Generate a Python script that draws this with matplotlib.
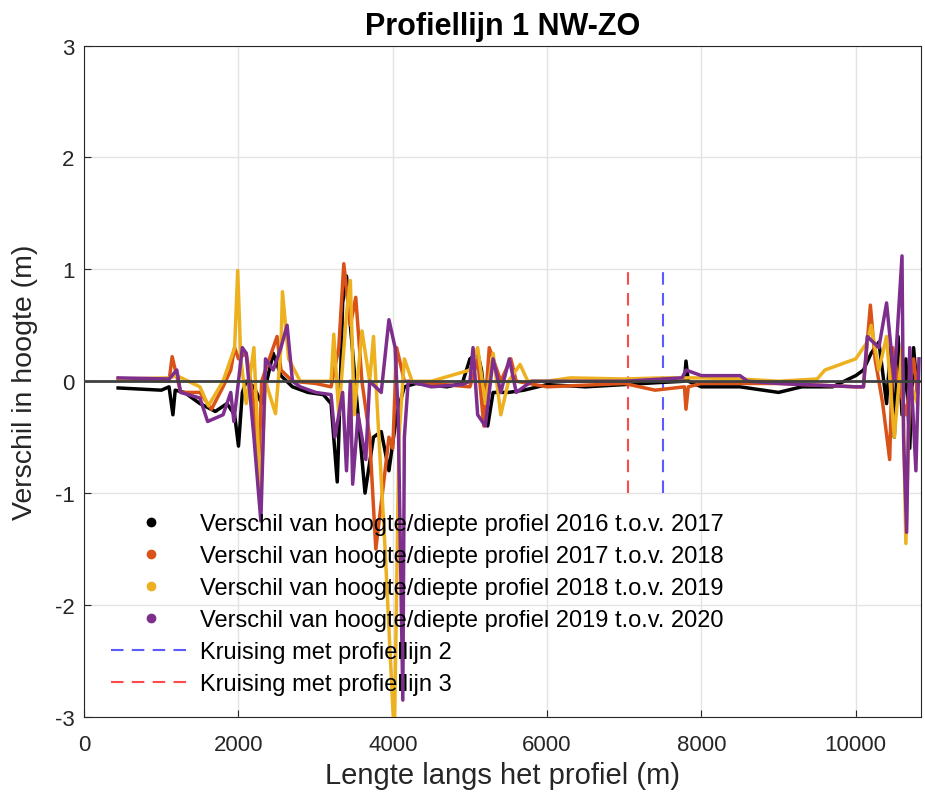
import numpy as np
import matplotlib.pyplot as plt
from matplotlib.lines import Line2D

# Verschil in hoogte langs profiellijn 1 (afstand in m, verschil in m)
x_1617 = [440, 1000, 1100, 1150, 1180, 1300, 1500, 1700, 1850, 1950, 2000, 2050, 2100, 2200, 2300,
          2450, 2550, 2700, 2900, 3100, 3200, 3280, 3300, 3350, 3400, 3450, 3550, 3640, 3750, 3850,
          3950, 4050, 4150, 4300, 4700, 4900, 5000, 5100, 5150, 5230, 5300, 5500, 5700, 6000, 6500,
          7000, 7500, 7780, 7800, 7830, 8000, 8500, 9000, 9300, 9700, 10000, 10100, 10200, 10300,
          10400, 10450, 10500, 10550, 10600, 10650, 10700, 10750, 10800]
y_1617 = [-0.06, -0.08, -0.05, -0.3, -0.08, -0.1, -0.2, -0.27, -0.2, -0.3, -0.58, -0.1, 0.0, -0.05, -0.2,
          0.25, 0.05, -0.05, -0.1, -0.12, -0.2, -0.9, -0.5, 0.7, 0.94, 0.5, -0.3, -1.0, -0.5, -0.45,
          -0.8, -0.3, -0.05, -0.02, -0.05, -0.02, 0.2, 0.25, 0.1, -0.4, -0.1, -0.1, -0.08, -0.03, -0.05,
          -0.03, -0.01, 0.0, 0.18, 0.0, -0.05, -0.05, -0.1, -0.05, -0.05, 0.05, 0.1, 0.25, 0.35,
          -0.2, 0.3, -0.5, 0.4, -0.3, 0.2, -0.6, 0.3, -0.1]

x_1718 = [440, 1100, 1140, 1250, 1500, 1650, 1800, 1900, 1950, 2000, 2100, 2200, 2260, 2300, 2400,
          2500, 2550, 2700, 3000, 3200, 3300, 3365, 3450, 3520, 3600, 3700, 3780, 3900, 3950, 4000,
          4050, 4150, 4500, 5000, 5100, 5180, 5250, 5400, 5530, 5600, 6000, 7000, 7400, 7780, 7800,
          7830, 8000, 9000, 10000, 10100, 10190, 10250, 10350, 10440, 10480, 10550, 10650, 10750, 10800]
y_1718 = [0.02, 0.0, 0.22, -0.1, -0.1, -0.25, -0.05, 0.1, 0.3, 0.2, 0.25, -0.2, -0.9, 0.0, 0.2,
          0.4, 0.1, 0.0, -0.02, -0.05, 0.3, 1.05, 0.5, 0.75, 0.0, -0.5, -1.5, -0.8, -0.5, -0.6,
          0.3, 0.0, -0.02, -0.05, 0.2, -0.4, 0.3, 0.0, 0.2, 0.0, -0.05, -0.02, -0.08, -0.05, -0.25,
          -0.05, -0.02, -0.02, -0.05, -0.05, 0.68, 0.2, -0.2, -0.7, 0.3, 0.0, -0.3, 0.2, -0.1]

x_1819 = [440, 1100, 1200, 1500, 1610, 1800, 1950, 1990, 2030, 2100, 2200, 2250, 2290, 2350, 2480,
          2550, 2570, 2650, 2800, 3200, 3235, 3300, 3400, 3450, 3500, 3600, 3700, 3750, 3820, 3900,
          4020, 4080, 4150, 4250, 4500, 5000, 5100, 5200, 5300, 5400, 5500, 5650, 5750, 6000, 6300,
          7000, 7500, 8000, 8500, 9000, 9500, 9600, 10000, 10150, 10200, 10300, 10400, 10500, 10600,
          10650, 10700, 10800]
y_1819 = [0.02, 0.03, 0.05, -0.05, -0.22, 0.0, 0.3, 0.99, 0.2, -0.2, 0.3, -0.5, -1.0, 0.0, -0.29,
          0.3, 0.8, 0.2, 0.0, 0.0, 0.42, -0.3, 0.6, 0.9, -0.3, 0.45, 0.0, 0.4, -0.5, -1.5,
          -3.2, -0.5, 0.2, 0.0, 0.0, 0.1, 0.3, -0.2, 0.25, -0.3, 0.0, 0.15, 0.0, 0.0, 0.03,
          0.02, 0.03, 0.03, 0.02, 0.0, 0.02, 0.1, 0.2, 0.35, 0.5, 0.1, 0.4, -0.5, 0.3,
          -1.45, 0.0, -0.2]

x_1920 = [440, 1100, 1200, 1250, 1500, 1600, 1800, 1900, 1940, 2050, 2100, 2200, 2290, 2350, 2450,
          2550, 2630, 2700, 2800, 3000, 3200, 3250, 3350, 3400, 3450, 3480, 3550, 3650, 3700, 3850,
          3950, 4030, 4070, 4130, 4150, 4200, 4500, 4900, 5000, 5040, 5100, 5200, 5300, 5400, 5510,
          5600, 5800, 6000, 7000, 7500, 7750, 7800, 8000, 8500, 8600, 9000, 10000, 10100, 10150,
          10300, 10400, 10500, 10600, 10620, 10660, 10700, 10780, 10820]
y_1920 = [0.03, 0.02, 0.1, -0.1, -0.15, -0.36, -0.3, -0.1, -0.36, 0.3, 0.25, -0.5, -1.25, 0.2, 0.1,
          0.3, 0.5, 0.0, -0.05, -0.1, -0.12, -0.5, -0.1, -0.8, 0.0, -0.92, -0.3, -0.7, 0.0, -0.1,
          0.55, 0.3, -0.3, -2.85, -0.5, 0.0, -0.05, -0.03, 0.0, 0.3, -0.3, -0.4, 0.2, -0.1, 0.2,
          -0.1, 0.0, 0.0, 0.0, 0.02, 0.03, 0.1, 0.05, 0.05, 0.0, -0.02, -0.05, -0.05, 0.4,
          0.3, 0.7, 0.0, 1.12, -0.5, -1.35, 0.3, -0.8, 0.2]

labels = ['Verschil van hoogte/diepte profiel 2016 t.o.v. 2017',
          'Verschil van hoogte/diepte profiel 2017 t.o.v. 2018',
          'Verschil van hoogte/diepte profiel 2018 t.o.v. 2019',
          'Verschil van hoogte/diepte profiel 2019 t.o.v. 2020']
kleuren = ['#000000', '#D95319', '#EDB120', '#7E2F8E']

# Kruisingen met andere profiellijnen
kruising_p2 = 7500
kruising_p3 = 7050
kruising_y = [-1, 1]

plt.rcParams['font.family'] = ['Liberation Sans', 'DejaVu Sans']
plt.rcParams['axes.unicode_minus'] = False

fig = plt.figure(figsize=(9.25, 8.03), dpi=100)
ax = fig.add_axes([0.091, 0.106, 0.905, 0.836])

series = [(x_1617, y_1617), (x_1718, y_1718), (x_1819, y_1819), (x_1920, y_1920)]
handles = []
for (xs, ys), kl, lab in zip(series, kleuren, labels):
    ax.plot(xs, ys, color=kl, lw=2.5, zorder=3)
    handles.append(Line2D([], [], ls='none', marker='o', ms=6, color=kl, label=lab))

ax.axhline(0, color='#404040', lw=2, zorder=4)

h2, = ax.plot([kruising_p2, kruising_p2], kruising_y, color='#5a5aff', lw=1.5,
              dashes=(6, 4), label='Kruising met profiellijn 2', zorder=2)
h3, = ax.plot([kruising_p3, kruising_p3], kruising_y, color='#ff4a4a', lw=1.5,
              dashes=(6, 4), label='Kruising met profiellijn 3', zorder=2)
handles += [h2, h3]

ax.set_xlim(0, 10850)
ax.set_ylim(-3, 3)
ax.set_xticks([0, 2000, 4000, 6000, 8000, 10000])
ax.set_yticks([-3, -2, -1, 0, 1, 2, 3])
ax.grid(True, color='#e3e3e3', lw=1)
ax.set_axisbelow(True)
ax.tick_params(direction='in', labelsize=16, colors='#262626', length=5, pad=7)
ax.tick_params(axis='x', pad=12)
for s in ax.spines.values():
    s.set_color('#262626')

ax.set_title('Profiellijn 1 NW-ZO', fontsize=22, fontweight='bold', pad=8)
ax.set_xlabel('Lengte langs het profiel (m)', fontsize=21, color='#262626', labelpad=5)
ax.set_ylabel('Verschil in hoogte (m)', fontsize=20.5, color='#262626', labelpad=12)

leg = ax.legend(handles=handles, loc='upper left', bbox_to_anchor=(0.032, 0.303), frameon=False,
                fontsize=17, handlelength=3.4, handletextpad=0.35, labelspacing=0.42,
                borderpad=0, borderaxespad=0)

fig.savefig('out.png', dpi=100)
